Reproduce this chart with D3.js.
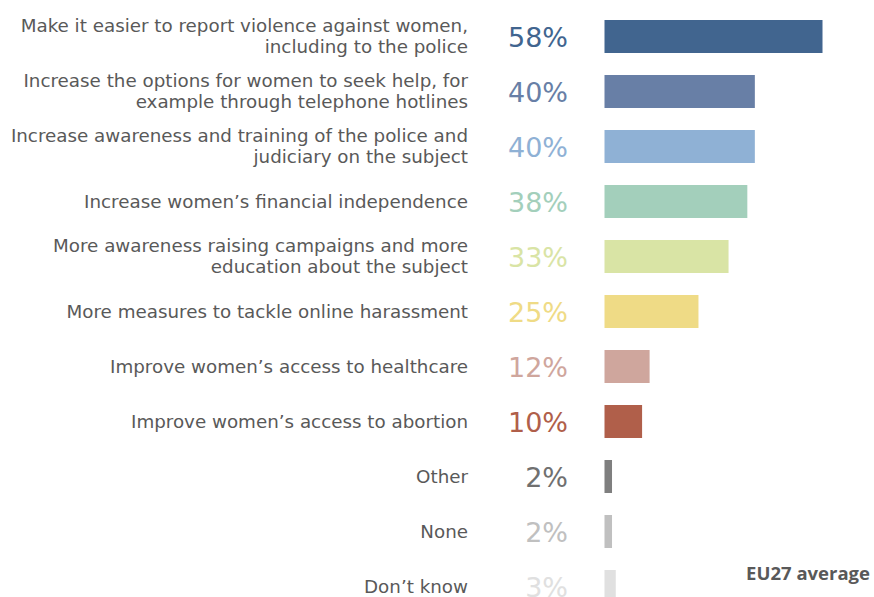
<!DOCTYPE html>
<html>
<head>
<meta charset="utf-8">
<script src="https://cdn.jsdelivr.net/npm/d3@7/dist/d3.min.js"></script>
<style>
  html, body { margin: 0; padding: 0; background: #ffffff; }
  svg { display: block; }
</style>
</head>
<body>
<svg id="chart" width="874" height="597"></svg>
<script>
// Measures to stop violence against women — share of respondents (EU27)
const labels = [
  ["Make it easier to report violence against women,", "including to the police"],
  ["Increase the options for women to seek help, for", "example through telephone hotlines"],
  ["Increase awareness and training of the police and", "judiciary on the subject"],
  ["Increase women\u2019s financial independence"],
  ["More awareness raising campaigns and more", "education about the subject"],
  ["More measures to tackle online harassment"],
  ["Improve women\u2019s access to healthcare"],
  ["Improve women\u2019s access to abortion"],
  ["Other"],
  ["None"],
  ["Don\u2019t know"]
];
const values = [58, 40, 40, 38, 33, 25, 12, 10, 2, 2, 3];
const barColors = ["#41658f", "#687fa6", "#8fb1d5", "#a3cfbb", "#d9e4a5", "#efdb86",
                   "#cfa69d", "#b05f4a", "#7f7f7f", "#c0c0c0", "#e0e0e0"];
const valueColors = ["#41658f", "#687fa6", "#8fb1d5", "#a3cfbb", "#d9e4a5", "#efdb86",
                     "#cfa69d", "#b05f4a", "#707070", "#c0c0c0", "#e0e0e0"];
const footnote = "EU27 average";

const svg = d3.select("#chart");
const font = "'DejaVu Sans', Verdana, sans-serif";

const rows = d3.range(values.length);
const y = d3.scaleBand().domain(rows).range([9, 614]).paddingInner(0.4).paddingOuter(0.2);
const x = d3.scaleLinear().domain([0, 58]).range([604.5, 822.5]);

const g = svg.append("g");

// bars
g.selectAll("rect.bar").data(rows).join("rect")
  .attr("class", "bar")
  .attr("x", x(0))
  .attr("y", i => y(i))
  .attr("width", i => x(values[i]) - x(0))
  .attr("height", y.bandwidth())
  .attr("fill", i => barColors[i]);

// value labels
g.selectAll("text.val").data(rows).join("text")
  .attr("class", "val")
  .attr("x", 568)
  .attr("y", i => y(i) + y.bandwidth() / 2 + 10)
  .attr("text-anchor", "end")
  .attr("font-family", font)
  .attr("font-size", 27)
  .attr("fill", i => valueColors[i])
  .text(i => values[i] + "%");

// category labels
const lab = g.selectAll("text.cat").data(rows).join("text")
  .attr("class", "cat")
  .attr("text-anchor", "end")
  .attr("font-family", font)
  .attr("font-size", 18.3)
  .attr("fill", "#595959");
lab.each(function(i) {
  const lines = labels[i];
  const cy = y(i) + y.bandwidth() / 2;
  const t = d3.select(this);
  if (lines.length === 1) {
    t.append("tspan").attr("x", 468).attr("y", cy + 6).text(lines[0]);
  } else {
    t.append("tspan").attr("x", 468).attr("y", cy - 5).text(lines[0]);
    t.append("tspan").attr("x", 468).attr("y", cy + 16).text(lines[1]);
  }
});

svg.append("text")
  .attr("x", 870)
  .attr("y", 580)
  .attr("text-anchor", "end")
  .attr("font-family", "'Open Sans', sans-serif")
  .attr("font-weight", "bold")
  .attr("font-size", 18.5)
  .attr("fill", "#595959")
  .text(footnote);
</script>
</body>
</html>
